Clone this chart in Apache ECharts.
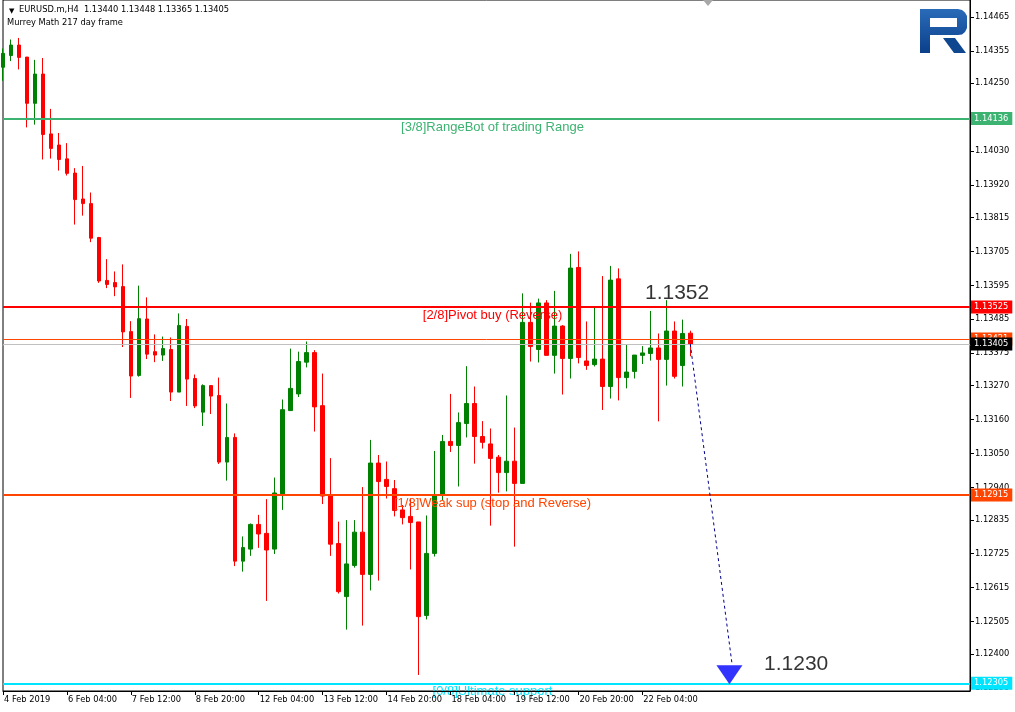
<!DOCTYPE html>
<html>
<head>
<meta charset="utf-8">
<script src="https://cdn.jsdelivr.net/npm/echarts@6/dist/echarts.min.js"></script>
<style>
html,body{margin:0;padding:0;background:#fff;}
#chart{width:1015px;height:712px;}
</style>
</head>
<body>
<div id="chart"></div>
<script>
// ---- data (EURUSD.m H4) ----
const opens = [1.14302,1.14340,1.14374,1.14335,1.14185,1.14280,1.14086,1.14050,1.14005,1.13959,
1.13875,1.13860,1.13750,1.13611,1.13604,1.13591,1.13445,1.13303,1.13486,1.13380,
1.13369,1.13387,1.13249,1.13462,1.13293,1.13184,1.13270,1.13238,1.13022,1.13102,
1.12701,1.12740,1.12820,1.12791,1.12740,1.12919,1.13189,1.13243,1.13346,1.13377,
1.13205,1.12912,1.12758,1.12586,1.12687,1.12795,1.12658,1.13019,1.12966,1.12936,
1.12867,1.12846,1.12828,1.12525,1.12726,1.12915,1.13089,1.13076,1.13147,1.13212,
1.13105,1.13081,1.13038,1.12988,1.13025,1.12953,1.13475,1.13387,1.13538,1.13368,
1.13463,1.13358,1.13653,1.13350,1.13338,1.13356,1.13267,1.13616,1.13296,1.13316,
1.13368,1.13374,1.13392,1.13355,1.13447,1.13335,1.13440];
const closes = [1.14347,1.14374,1.14334,1.14185,1.14280,1.14084,1.14039,1.14003,1.13958,1.13873,
1.13860,1.13748,1.13609,1.13598,1.13590,1.13444,1.13301,1.13487,1.13372,1.13369,
1.13390,1.13249,1.13465,1.13291,1.13204,1.13270,1.13236,1.13022,1.13102,1.12701,
1.12745,1.12820,1.12789,1.12737,1.12922,1.13192,1.13261,1.13348,1.13377,1.13201,
1.12912,1.12756,1.12602,1.12692,1.12795,1.12658,1.13019,1.12959,1.12943,1.12865,
1.12842,1.12826,1.12521,1.12726,1.12915,1.13089,1.13076,1.13150,1.13212,1.13105,
1.13086,1.13034,1.12988,1.13025,1.12953,1.13475,1.13397,1.13538,1.13368,1.13463,
1.13358,1.13651,1.13361,1.13335,1.13356,1.13267,1.13612,1.13296,1.13314,1.13369,
1.13376,1.13392,1.13355,1.13447,1.13300,1.13439,1.13405];
const lows = [1.14258,1.14322,1.14295,1.14107,1.14116,1.14003,1.14006,1.13967,1.13951,1.13792,
1.13821,1.13735,1.13603,1.13586,1.13560,1.13395,1.13230,1.13299,1.13356,1.13346,
1.13350,1.13220,1.13249,1.13204,1.13197,1.13139,1.13178,1.13016,1.12962,1.12685,
1.12667,1.12718,1.12744,1.12572,1.12724,1.12867,1.13188,1.13233,1.13329,1.13121,
1.12886,1.12718,1.12596,1.12479,1.12680,1.12492,1.12606,1.12638,1.12904,1.12846,
1.12820,1.12674,1.12332,1.12512,1.12716,1.12899,1.13055,1.12943,1.13102,1.13017,
1.13066,1.12816,1.12923,1.12927,1.12748,1.12953,1.13348,1.13345,1.13368,1.13309,
1.13241,1.13293,1.13342,1.13321,1.13332,1.13191,1.13228,1.13222,1.13261,1.13293,
1.13340,1.13351,1.13154,1.13270,1.13293,1.13267,1.13365];
const highs = [1.14363,1.14392,1.14397,1.14335,1.14326,1.14332,1.14167,1.14089,1.14056,1.13975,
1.13982,1.13896,1.13752,1.13680,1.13640,1.13663,1.13479,1.13594,1.13556,1.13436,
1.13429,1.13426,1.13504,1.13486,1.13306,1.13274,1.13270,1.13296,1.13212,1.13115,
1.12781,1.12823,1.12851,1.12902,1.12972,1.13225,1.13390,1.13380,1.13413,1.13385,
1.13309,1.13035,1.12829,1.12834,1.12834,1.12941,1.13094,1.13045,1.13024,1.12964,
1.12883,1.12904,1.12828,1.12849,1.13058,1.13110,1.13243,1.13183,1.13333,1.13267,
1.13155,1.13131,1.13045,1.13238,1.13134,1.13569,1.13539,1.13552,1.13547,1.13577,
1.13466,1.13697,1.13705,1.13478,1.13522,1.13625,1.13658,1.13650,1.13402,1.13369,
1.13398,1.13512,1.13439,1.13547,1.13478,1.13484,1.13448];

const xTickLabels = ['4 Feb 2019','6 Feb 04:00','7 Feb 12:00','8 Feb 20:00','12 Feb 04:00','13 Feb 12:00',
  '14 Feb 20:00','18 Feb 04:00','19 Feb 12:00','20 Feb 20:00','22 Feb 04:00'];
const yTicks = [1.12290,1.12400,1.12505,1.12615,1.12725,1.12835,1.12940,1.13050,1.13160,1.13270,
  1.13375,1.13485,1.13595,1.13705,1.13815,1.13920,1.14030,1.14140,1.14250,1.14355,1.14465];

// Murrey math levels
const levelValues = [1.14136, 1.13525, 1.13421, 1.12915, 1.12305];
const levelNames = ['[3/8]RangeBot of trading Range', '[2/8]Pivot buy (Reverse)', '', '[1/8]Weak sup (stop and Reverse)', '[0/8]Ultimate support'];
const bidPrice = 1.13405;

// forecast annotation
const forecastFrom = [86, 1.13405];
const forecastTo = [91.24, 1.12364];
const arrowPoint = [90.9, 1.12333];
const noteTexts = ['1.1352', '1.1230'];
const notePoints = [[84.35, 1.13570], [99.25, 1.12367]];

// slot count on the time axis (bars + right shift space)
const slotCount = 122;
const categories = Array.from({length: slotCount}, (_, i) => String(i));

// ---- styles ----
const levelColors = ['#3cb371', '#ff0000', '#ff4500', '#ff4500', '#00e5ff'];
const levelWidths = [2, 2, 1, 2, 2];
const BULL = '#008000', BEAR = '#ff0000';
const SMALL = '"DejaVu Sans", sans-serif';

const candleData = opens.map((o, i) => [o, closes[i], lows[i], highs[i]]);
const n = opens.length;
const header = 'EURUSD.m,H4  ' + [opens[n-1], highs[n-1], lows[n-1], closes[n-1]].map(v => v.toFixed(5)).join(' ');

const markData = [];
levelValues.forEach((v, i) => {
  const ls = {color: levelColors[i], width: levelWidths[i], type: 'solid'};
  if (levelNames[i]) {
    markData.push({yAxis: v, lineStyle: ls, label: {show: true, position: 'insideMiddleBottom', distance: 2, offset: [6, 0],
      formatter: levelNames[i], color: levelColors[i], fontSize: 13, fontFamily: '"Liberation Sans", Arial, sans-serif'}});
  }
});
markData.push({yAxis: bidPrice, lineStyle: {color: '#c0c0c0', width: 1, type: 'solid'}, label: {show: false}});
const boxOrder = [0, 1, 3, 4, 2];
boxOrder.forEach(i => {
  markData.push({yAxis: levelValues[i], lineStyle: {color: levelColors[i], width: levelWidths[i], type: 'solid'},
    label: {show: true, position: 'end', distance: 1, formatter: levelValues[i].toFixed(5), color: '#fff',
      backgroundColor: levelColors[i], padding: [2, 4, 1, 3], fontSize: 8.3, fontFamily: SMALL, lineHeight: 10}});
});
markData.push({yAxis: bidPrice, lineStyle: {color: '#c0c0c0', width: 1, type: 'solid'},
  label: {show: true, position: 'end', distance: 1, formatter: bidPrice.toFixed(5), color: '#fff',
    backgroundColor: '#000', padding: [2, 4, 1, 3], fontSize: 8.3, fontFamily: SMALL, lineHeight: 10}});

const chart = echarts.init(document.getElementById('chart'), null, {renderer: 'canvas'});
const showTick = (idx) => idx % 8 === 0 && idx / 8 < xTickLabels.length;

chart.setOption({
  animation: false,
  backgroundColor: '#fff',
  grid: {left: 3, right: 45, top: 0, bottom: 21, show: true, borderColor: '#000', borderWidth: 1, backgroundColor: 'transparent'},
  xAxis: [{
    type: 'category', data: categories, boundaryGap: false, z: 10,
    axisLine: {show: true, lineStyle: {color: '#000', width: 1}},
    axisTick: {show: true, interval: (i) => showTick(i), length: 4, lineStyle: {color: '#000'}},
    axisLabel: {show: true, interval: (i) => showTick(i), margin: 5, align: 'left', padding: [0, 0, 0, 1],
      color: '#000', fontSize: 8.3, fontFamily: SMALL,
      formatter: (v, idx) => showTick(idx) ? xTickLabels[idx / 8] : ''},
    splitLine: {show: false}
  }, {
    type: 'value', min: 0, max: slotCount - 1, show: false
  }],
  yAxis: [{
    type: 'value', position: 'right', min: 1.12280, max: 1.14520, scale: true,
    axisLine: {show: true, onZero: false, lineStyle: {color: '#000', width: 1}},
    axisTick: {show: true, length: 4, customValues: yTicks, lineStyle: {color: '#000'}},
    axisLabel: {show: true, margin: 5, customValues: yTicks, color: '#000', fontSize: 8.3, fontFamily: SMALL,
      formatter: (v) => v.toFixed(5)},
    splitLine: {show: false}
  }],
  series: [{
    type: 'candlestick',
    xAxisIndex: 0, yAxisIndex: 0,
    data: candleData,
    barWidth: 4,
    itemStyle: {color: BULL, color0: BEAR, borderColor: BULL, borderColor0: BEAR, borderWidth: 1}
  }, {
    type: 'line',
    name: 'levels',
    xAxisIndex: 1, yAxisIndex: 0,
    data: [],
    symbol: 'none',
    silent: true, z: 4,
    markLine: {silent: true, precision: 5, symbol: ['none', 'none'], animation: false, data: markData}
  }, {
    type: 'line',
    xAxisIndex: 1, yAxisIndex: 0,
    data: [forecastFrom, forecastTo],
    symbol: 'none',
    lineStyle: {color: '#00008b', width: 1, type: [3, 3]},
    silent: true, z: 6
  }, {
    type: 'scatter',
    xAxisIndex: 1, yAxisIndex: 0,
    data: [arrowPoint],
    symbol: 'triangle', symbolRotate: 180, symbolSize: [26, 19],
    itemStyle: {color: '#0000ff'},
    silent: true, z: 7
  }, {
    type: 'scatter',
    xAxisIndex: 1, yAxisIndex: 0,
    data: notePoints.map((p, i) => ({value: p, name: noteTexts[i]})),
    symbolSize: 0,
    label: {show: true, position: 'inside', formatter: (p) => p.name, color: '#000', fontSize: 21,
      fontFamily: '"Liberation Sans", Arial, sans-serif'},
    silent: true, z: 7
  }],
  graphic: [
    {type: 'rect', shape: {x: 0, y: 692, width: 969, height: 20}, style: {fill: '#fff'}, z: 5, silent: true},
    {type: 'text', x: 9, y: 8, style: {text: '▼', font: '7px "DejaVu Sans"', fill: '#000'}, z: 20},
    {type: 'text', x: 19, y: 6, style: {text: header, font: '8.3px "DejaVu Sans"', fill: '#000'}, z: 20},
    {type: 'text', x: 7, y: 19, style: {text: 'Murrey Math 217 day frame', font: '8.3px "DejaVu Sans"', fill: '#000'}, z: 20},
    {type: 'polygon', shape: {points: [[703, 0], [713, 0], [708, 6]]}, style: {fill: '#a8a8a8'}, z: 20},
    {type: 'polygon', z: 20, shape: {points: [[920,9],[958,9],[962,10],[965,12.5],[967,16],[967,28],[965,32],[962,34.5],[958,35],[930,35],[930,53],[920,53]]},
      style: {fill: new echarts.graphic.LinearGradient(0, 0, 0, 1, [{offset: 0, color: '#2a6bb8'}, {offset: 1, color: '#0b3f8a'}])}},
    {type: 'rect', z: 21, shape: {x: 930, y: 18, width: 27, height: 9}, style: {fill: '#fff'}},
    {type: 'polygon', z: 20, shape: {points: [[943, 38], [955, 38], [966, 53], [954, 53]]}, style: {fill: '#0f4690'}}
  ]
});
</script>
</body>
</html>
